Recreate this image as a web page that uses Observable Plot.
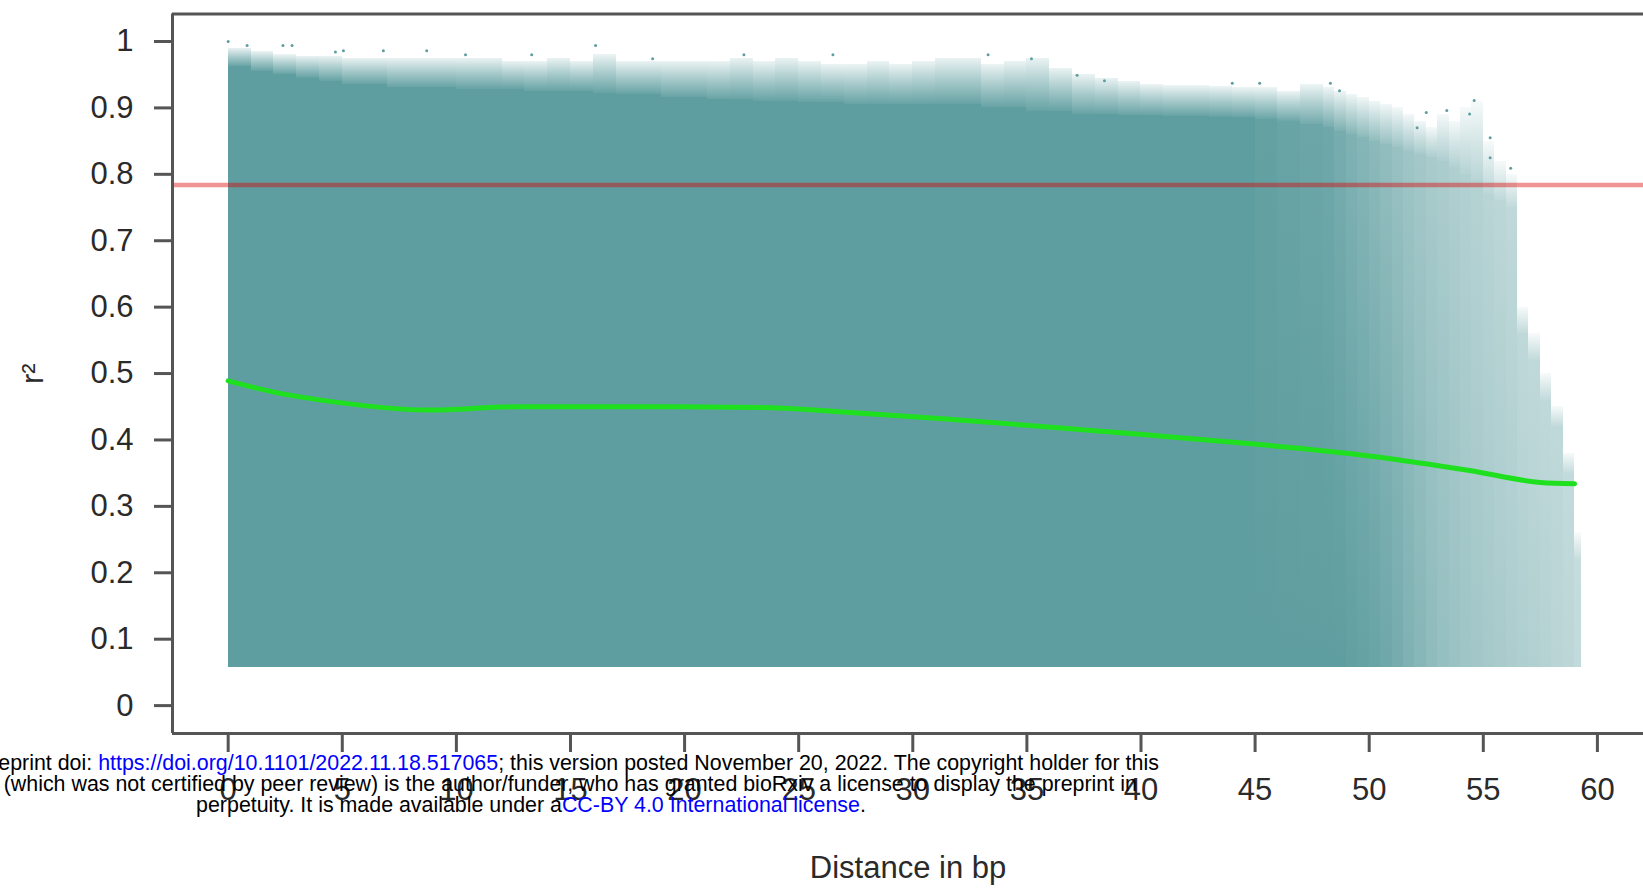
<!DOCTYPE html>
<html><head><meta charset="utf-8">
<script src="https://cdn.jsdelivr.net/npm/d3@7"></script>
<script src="https://cdn.jsdelivr.net/npm/@observablehq/plot@0.6"></script>
<style>
html,body{margin:0;padding:0;background:#fff;}
#wrap{position:relative;width:1643px;height:894px;overflow:hidden;}
#chart svg{display:block;}
#wm{position:absolute;left:-369px;top:753px;width:1800px;text-align:center;font-family:"Liberation Sans",Arial,sans-serif;font-size:21.4px;line-height:20.75px;color:#000;white-space:nowrap;}
#wm .lnk{color:#0000ff;}
</style></head><body>
<div id="wrap"><div id="chart"></div>
<div id="wm">bioRxiv preprint doi: <span class="lnk">https://doi.org/10.1101/2022.11.18.517065</span>; this version posted November 20, 2022. The copyright holder for this<br>preprint (which was not certified by peer review) is the author/funder, who has granted bioRxiv a license to display the preprint in<br>perpetuity. It is made available under a<span class="lnk">CC-BY 4.0 International license</span>.</div>
</div>
<script>
// ---- data ----
const xTicks = [0, 5, 10, 15, 20, 25, 30, 35, 40, 45, 50, 55, 60];
const xTickLabels = ["0", "5", "10", "15", "20", "25", "30", "35", "40", "45", "50", "55", "60"];
const yTicks = [0, 0.1, 0.2, 0.3, 0.4, 0.5, 0.6, 0.7, 0.8, 0.9, 1];
const yTickLabels = ["0", "0.1", "0.2", "0.3", "0.4", "0.5", "0.6", "0.7", "0.8", "0.9", "1"];
const xDomain = [-2.44, 62.02];
const yDomain = [-0.042, 1.0414];
const rMin = 0.058;          // lowest r² plotted
const threshold = 0.784;     // red reference line

// scatter cloud summarised per distance column (bp)
const colEdges = [0,1,2,3,4,5,6,7,8,9,10,11,12,13,14,15,16,17,18,19,20,21,22,23,24,25,26,27,28,29,30,31,32,33,34,35,36,37,38,39,40,41,42,43,44,45,46,47,48,
  48.5,49,49.5,50,50.5,51,51.5,52,52.5,53,53.5,54,54.5,55,55.5,56,56.5,57,57.5,58,58.5,59,59.3];
const colTop = [0.962,0.955,0.95,0.945,0.94,0.935,0.935,0.93,0.93,0.93,0.928,0.928,0.928,0.925,0.925,0.925,0.922,0.92,0.92,0.915,0.915,0.912,0.912,0.91,0.91,0.908,0.908,0.905,0.905,0.905,0.905,0.905,0.905,0.9,0.9,0.895,0.895,0.89,0.89,0.888,0.888,0.887,0.887,0.886,0.885,0.883,0.88,0.875,
  0.87,0.865,0.86,0.855,0.85,0.845,0.84,0.835,0.83,0.825,0.82,0.81,0.8,0.79,0.77,0.76,0.75,0.56,0.52,0.46,0.42,0.35,0.22];
const colMax = [0.99,0.985,0.98,0.978,0.978,0.975,0.975,0.975,0.975,0.975,0.975,0.975,0.97,0.97,0.975,0.97,0.98,0.97,0.97,0.97,0.97,0.97,0.975,0.97,0.975,0.97,0.965,0.965,0.97,0.965,0.97,0.975,0.975,0.965,0.97,0.975,0.96,0.95,0.945,0.94,0.935,0.933,0.933,0.932,0.93,0.93,0.925,0.935,
  0.93,0.925,0.92,0.915,0.91,0.905,0.9,0.89,0.88,0.87,0.89,0.88,0.9,0.91,0.85,0.82,0.8,0.6,0.56,0.5,0.45,0.38,0.26];
// share of the column covered by points, at the bottom and at the top of the column
const colDensityLow = [1,1,1,1,1,1,1,1,1,1,1,1,1,1,1,1,1,1,1,1,1,1,1,1,1,1,1,1,1,1,1,1,1,1,1,1,1,1,1,1,1,1,1,1,1,1,1,1,
  1,1,0.98,0.96,0.94,0.9,0.86,0.8,0.75,0.7,0.66,0.63,0.6,0.58,0.56,0.54,0.52,0.5,0.48,0.46,0.44,0.42,0.38];
const colDensityHigh = [1,1,1,1,1,1,1,1,1,1,1,1,1,1,1,1,1,1,1,1,1,1,1,1,1,1,1,1,1,1,1,1,1,1,1,1,1,1,1,1,1,1,1,1,1,0.97,0.94,0.92,
  0.9,0.85,0.8,0.76,0.72,0.68,0.64,0.6,0.57,0.54,0.52,0.5,0.48,0.46,0.44,0.42,0.4,0.4,0.4,0.4,0.4,0.38,0.36];

// isolated points above the cloud
const outX  = [0.0, 0.83, 2.4, 2.8, 4.7, 5.05, 6.8, 8.7, 10.4, 13.3, 16.1, 18.6, 22.6, 26.5, 33.3, 35.2, 37.2, 38.4, 44.0, 45.2, 48.3, 48.7, 52.1, 52.5, 53.4, 54.4, 54.6, 55.3, 55.3, 56.2];
const outR2 = [1.0, 0.994, 0.994, 0.994, 0.984, 0.986, 0.986, 0.986, 0.98, 0.98, 0.994, 0.974, 0.98, 0.98, 0.98, 0.974, 0.949, 0.941, 0.937, 0.937, 0.937, 0.926, 0.87, 0.893, 0.896, 0.891, 0.911, 0.855, 0.825, 0.809];

// smoothed (green) trend
const loessX  = [0, 2.0, 4.7, 8.7, 12.7, 18.6, 23.4, 26.6, 31.3, 36.5, 40.5, 45.2, 50.0, 54.4, 57.5, 59.0];
const loessR2 = [0.489, 0.472, 0.457, 0.445, 0.450, 0.450, 0.449, 0.443, 0.432, 0.418, 0.407, 0.393, 0.376, 0.354, 0.336, 0.334];

// ---- build ----
const teal = "#5f9ea0";
const cols = colTop.map((t, i) => ({i, x1: colEdges[i], x2: colEdges[i + 1], top: t, max: colMax[i], dl: colDensityLow[i], dh: colDensityHigh[i]}));
const axisColor = "#555555";
const textColor = "#2a2a2a";

const chart = Plot.plot({
  width: 1643,
  height: 894,
  marginLeft: 172,
  marginRight: 0,
  marginTop: 13.5,
  marginBottom: 161,
  style: {fontFamily: "'Liberation Sans', Arial, sans-serif", fontSize: "31px", background: "#fff", overflow: "visible"},
  x: {domain: xDomain},
  y: {domain: yDomain},
  marks: [
    // body of the cloud
    Plot.rect(cols, {x1: "x1", x2: "x2", y1: () => rMin, y2: "top", fill: teal, shapeRendering: "crispEdges", ariaLabel: d => "body-" + d.i}),
    // speckled fringe
    Plot.rect(cols, {x1: "x1", x2: "x2", y1: "top", y2: "max", fill: teal, fillOpacity: "dh", shapeRendering: "crispEdges", ariaLabel: () => "fringe"}),
    Plot.dot(outX, {x: d => d, y: (d, i) => outR2[i], r: 1.5, fill: teal, stroke: null}),
    Plot.ruleY([threshold], {stroke: "#dd0000", strokeOpacity: 0.42, strokeWidth: 4.5}),
    Plot.line(loessX, {x: d => d, y: (d, i) => loessR2[i], stroke: "#1fe01f", strokeWidth: 5, curve: "monotone-x"}),
    Plot.axisY(yTicks, {tickSize: 18, tickPadding: 21, tickFormat: d => yTickLabels[yTicks.indexOf(d)],
      stroke: axisColor, strokeWidth: 3, fill: textColor, fontSize: 31,
      label: "r²", labelAnchor: "center", labelOffset: 152, labelArrow: false}),
    Plot.axisX(xTicks, {tickSize: 19, tickPadding: 25, tickFormat: d => xTickLabels[xTicks.indexOf(d)],
      stroke: axisColor, strokeWidth: 3, fill: textColor, fontSize: 31,
      label: "Distance in bp", labelAnchor: "center", labelOffset: 144, labelArrow: false}),
    Plot.ruleX([xDomain[0]], {stroke: axisColor, strokeWidth: 3}),
    Plot.ruleY([yDomain[0], yDomain[1]], {stroke: axisColor, strokeWidth: 3})
  ]
});

// gradients: vertical density change inside each column, and fade of the fringe
const svgSel = d3.select(chart);
const defs = svgSel.insert("defs", ":first-child");
const grad = defs.append("linearGradient").attr("id", "fringeGrad").attr("x1", 0).attr("y1", 1).attr("x2", 0).attr("y2", 0);
grad.append("stop").attr("offset", 0).attr("stop-color", teal).attr("stop-opacity", 0.95);
grad.append("stop").attr("offset", 0.5).attr("stop-color", teal).attr("stop-opacity", 0.55);
grad.append("stop").attr("offset", 1).attr("stop-color", teal).attr("stop-opacity", 0.12);
svgSel.selectAll('rect[aria-label="fringe"], g[aria-label="fringe"] rect').attr("fill", "url(#fringeGrad)");

cols.forEach(c => {
  const g = defs.append("linearGradient").attr("id", "bodyGrad" + c.i).attr("x1", 0).attr("y1", 1).attr("x2", 0).attr("y2", 0);
  g.append("stop").attr("offset", 0).attr("stop-color", teal).attr("stop-opacity", c.dl);
  g.append("stop").attr("offset", 0.45).attr("stop-color", teal).attr("stop-opacity", (c.dl * 0.6 + c.dh * 0.4));
  g.append("stop").attr("offset", 1).attr("stop-color", teal).attr("stop-opacity", c.dh);
  svgSel.selectAll('rect[aria-label="body-' + c.i + '"]').attr("fill", "url(#bodyGrad" + c.i + ")");
});

document.getElementById("chart").appendChild(chart);
</script>
</body></html>
